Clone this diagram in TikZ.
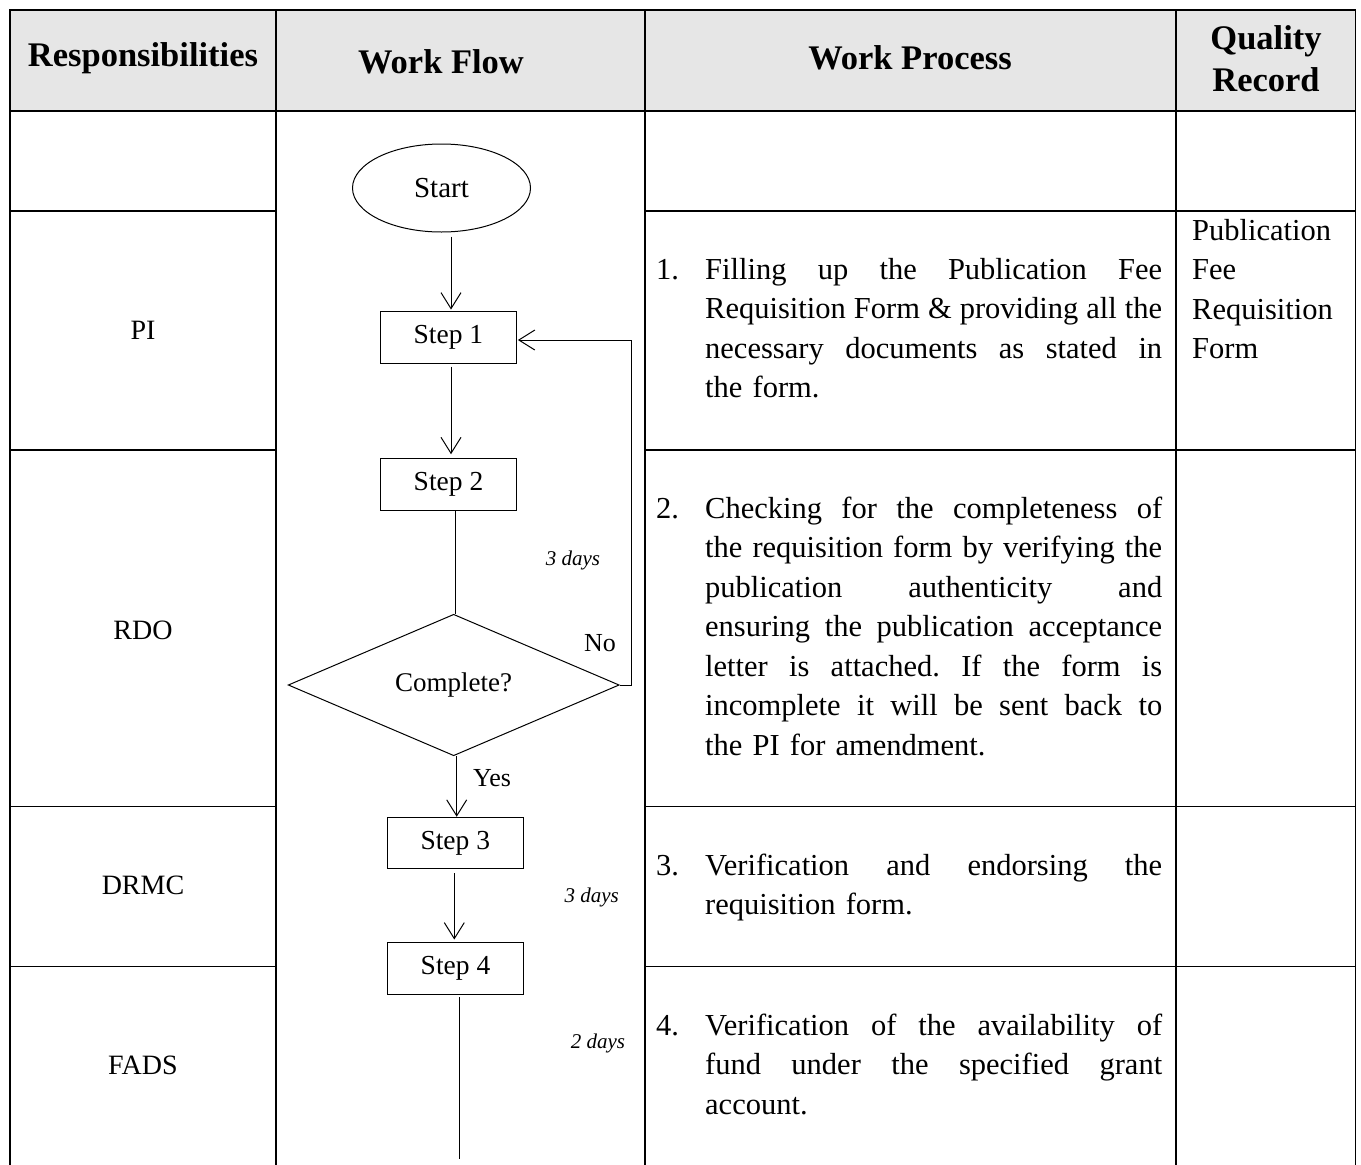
\documentclass[tikz,border=0pt]{standalone}
\usepackage{fontspec}
\setmainfont{Liberation Serif}
\usetikzlibrary{shapes.geometric,arrows.meta}
\definecolor{hdr}{HTML}{E6E6E6}
\newcommand\jline[1]{\hbox to 457pt{\frenchspacing\spaceskip=\fontdimen2\font plus 1fil\relax #1}}
\newcommand\numbox[1]{\makebox[49pt][l]{#1}}
\begin{document}
\begin{tikzpicture}[x=1pt,y=-1pt,
  grid/.style={line width=1.8pt,black},
  flow/.style={line width=1pt,black},
  arr/.style={flow,-{Straight Barb[length=16pt,width=20pt]}},
  hd/.style={font=\bfseries\fontsize{34.5}{42}\selectfont,align=center,inner sep=0},
  resp/.style={font=\fontsize{28}{34}\selectfont,inner sep=0},
  box/.style={draw,flow,rectangle,minimum width=136pt,minimum height=51.5pt,inner sep=0,font=\fontsize{27.5}{32}\selectfont},
  proc/.style={anchor=north west,inner sep=0,align=left,text width=506pt,font=\fontsize{30.5}{39.5}\selectfont\frenchspacing},
  rec/.style={anchor=north west,inner sep=0,align=left,font=\fontsize{30.5}{39.5}\selectfont},
  days/.style={font=\itshape\fontsize{21}{25}\selectfont,inner sep=0},
  yn/.style={font=\fontsize{26}{30}\selectfont,inner sep=0}]
\useasboundingbox (0,0) rectangle (1361,1165);
% header background
\fill[hdr] (10,10) rectangle (1355.5,111);
% table grid
\draw[grid] (10,1165) -- (10,10) -- (1355.5,10) -- (1355.5,1165);
\draw[grid] (276,10) -- (276,1165);
\draw[grid] (645,10) -- (645,1165);
\draw[grid] (1176,10) -- (1176,1165);
\draw[grid] (10,111) -- (1355.5,111);
\foreach \yy in {211,450,806.5,966.5}{
  \draw[grid] (10,\yy) -- (276,\yy);
  \draw[grid] (645,\yy) -- (1355.5,\yy);
}
% headers
\node[hd] (h1) at (143,58) {Responsibilities};
\node[hd] (h2) at (441,62) {Work Flow};
\node[hd] (h3) at (910,58) {Work Process};
\node[hd] (h4) at (1266,59) {Quality\\Record};
% responsibilities
\node[resp] (r1) at (143,330) {PI};
\node[resp] (r2) at (143,630) {RDO};
\node[resp] (r3) at (143,885) {DRMC};
\node[resp] (r4) at (143,1065) {FADS};
% flow chart
\node[draw,flow,ellipse,minimum width=178pt,minimum height=88pt,inner sep=0,font=\fontsize{29}{32}\selectfont] (start) at (441.5,188) {Start};
\node[box] (s1) at (448.4,337.3) {Step 1};
\node[box] (s2) at (448.5,484.5) {Step 2};
\node[draw,flow,diamond,minimum width=331pt,minimum height=128pt,inner sep=0,font=\fontsize{27}{32}\selectfont] (dec) at (453.7,685) {Complete?};
\node[box] (s3) at (455.3,843) {Step 3};
\node[box] (s4) at (455.5,968.3) {Step 4};
\coordinate (fend) at (459,1159);
\draw[arr,shorten <=4pt,shorten >=1.5pt] ([xshift=9.5pt]start.south) -- ([xshift=9.5pt]start.south |- s1.north);
\draw[arr,shorten <=3pt,shorten >=4pt] ([xshift=2.6pt]s1.south) -- ([xshift=2.6pt]s1.south |- s2.north);
\draw[flow] ([xshift=6.5pt]s2.south) -- ([xshift=6.5pt]s2.south |- dec.north);
\draw[arr,shorten >=1pt] (dec.east) -- ++(12,0) |- ([yshift=-2.7pt]s1.east);
\draw[arr] ([xshift=3pt]dec.south) -- ([xshift=3pt]dec.south |- s3.north);
\draw[arr,shorten <=4pt,shorten >=2.5pt] ([xshift=-1pt]s3.south) -- ([xshift=-1pt]s3.south |- s4.north);
\draw[flow,shorten <=2.5pt] (s4.south -| fend) -- (fend);
\node[days] (d1) at (573,560) {3 days};
\node[yn] (no) at (600,643) {No};
\node[yn] (yes) at (492,778) {Yes};
\node[days] (d2) at (591.7,897) {3 days};
\node[days] (d3) at (598,1043) {2 days};
% work process
\node[proc] (p1) at (656,257) {\rule{0pt}{22pt}\numbox{1.}\jline{Filling up the Publication Fee}\\
\hspace*{49pt}\jline{Requisition Form \& providing all the}\\
\hspace*{49pt}\jline{necessary documents as stated in}\\
\hspace*{49pt}the form.};
\node[proc] (p2) at (656,496) {\rule{0pt}{22pt}\numbox{2.}\jline{Checking for the completeness of}\\
\hspace*{49pt}\jline{the requisition form by verifying the}\\
\hspace*{49pt}\jline{publication authenticity and}\\
\hspace*{49pt}\jline{ensuring the publication acceptance}\\
\hspace*{49pt}\jline{letter is attached. If the form is}\\
\hspace*{49pt}\jline{incomplete it will be sent back to}\\
\hspace*{49pt}the PI for amendment.};
\node[proc] (p3) at (656,853) {\rule{0pt}{22pt}\numbox{3.}\jline{Verification and endorsing the}\\
\hspace*{49pt}requisition form.};
\node[proc] (p4) at (656,1013) {\rule{0pt}{22pt}\numbox{4.}\jline{Verification of the availability of}\\
\hspace*{49pt}\jline{fund under the specified grant}\\
\hspace*{49pt}account.};
% quality record
\node[rec] (q1) at (1192,218) {\rule{0pt}{22pt}Publication\\Fee\\Requisition\\Form};
\end{tikzpicture}
\end{document}
